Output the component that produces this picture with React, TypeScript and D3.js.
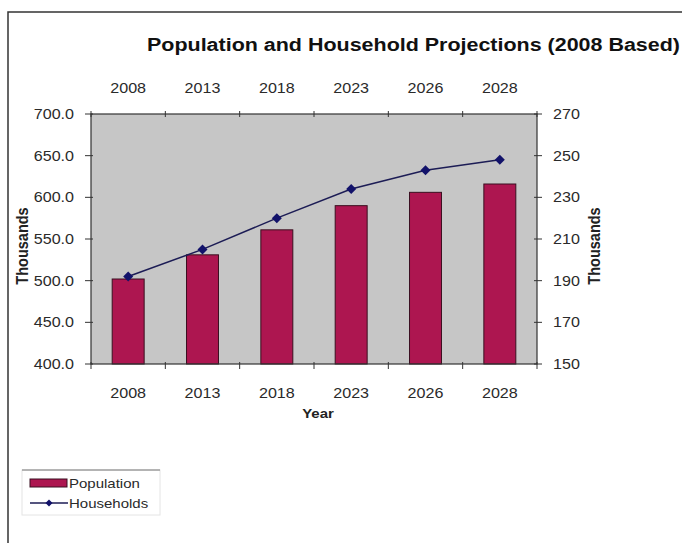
import React from "react";
import * as d3 from "d3";

const years = ["2008", "2013", "2018", "2023", "2026", "2028"];
const population = [502, 531, 561, 590, 606, 616];
const households = [192, 205, 220, 234, 243, 248];
const leftTicks = [400, 450, 500, 550, 600, 650, 700];
const rightTicks = [150, 170, 190, 210, 230, 250, 270];
const titleText = "Population and Household Projections (2008 Based)";
const seriesNames = ["Population", "Households"];

const W = 682, H = 543;
const L = 91, R = 537, T = 114, B = 364;
const SX = 1.15;
const FONT = "'Liberation Sans', Arial, sans-serif";
const BAR = "#ad1650";
const LINE = "#1c1c55";

function ST({ x, y, anchor = "start", size = 14, weight = "normal", fill = "#2a2a2a", sx = SX, children }: any) {
  return (
    <text transform={`translate(${x},${y}) scale(${sx},1)`} textAnchor={anchor} fontSize={size} fontWeight={weight} fill={fill} fontFamily={FONT}>
      {children}
    </text>
  );
}

export default function App() {
  const x = d3.scaleBand<string>().domain(years).range([L, R]).paddingInner(0.57).paddingOuter(0.285);
  const yL = d3.scaleLinear().domain([400, 700]).range([B, T]);
  const yR = d3.scaleLinear().domain([150, 270]).range([B, T]);
  const step = x.step();
  const cx = (d: string) => (x(d) as number) + x.bandwidth() / 2;
  const line = d3.line<number>().x((_, i) => cx(years[i])).y((d) => yR(d));
  const bounds = d3.range(years.length + 1).map((i) => L + i * step);
  const diamond = (px: number, py: number, s = 5) => `M${px},${py - s}L${px + s},${py}L${px},${py + s}L${px - s},${py}Z`;

  return (
    <svg width={W} height={H} style={{ position: "absolute", left: 0, top: 0, background: "#fff" }}>
      <rect x={8} y={12} width={720} height={600} fill="#fff" stroke="#333" strokeWidth={1.5} />
      <text x={147} y={51} fontSize={18} fontWeight="bold" fontFamily={FONT} fill="#111" textLength={533} lengthAdjust="spacingAndGlyphs">
        {titleText}
      </text>
      <rect x={L} y={T} width={R - L} height={B - T} fill="#c6c6c6" />
      {years.map((d, i) => (
        <rect key={d} x={x(d)} y={yL(population[i])} width={x.bandwidth()} height={B - yL(population[i])} fill={BAR} stroke="#3a0f20" strokeWidth={1} />
      ))}
      <path d={line(households) || ""} fill="none" stroke={LINE} strokeWidth={1.5} />
      {households.map((v, i) => (
        <path key={i} d={diamond(cx(years[i]), yR(v))} fill="#12126a" />
      ))}
      <rect x={L} y={T} width={R - L} height={B - T} fill="none" stroke="#333" strokeWidth={1.2} />
      {leftTicks.map((t) => (
        <g key={t}>
          <line x1={L - 6} x2={L + 2} y1={yL(t)} y2={yL(t)} stroke="#333" />
          <ST x={74} y={yL(t) + 5} anchor="end">{t.toFixed(1)}</ST>
        </g>
      ))}
      {rightTicks.map((t) => (
        <g key={t}>
          <line x1={R - 3} x2={R + 5} y1={yR(t)} y2={yR(t)} stroke="#333" />
          <ST x={553} y={yR(t) + 5}>{t}</ST>
        </g>
      ))}
      {bounds.map((b, i) => (
        <g key={i}>
          <line x1={b} x2={b} y1={B - 2} y2={B + 5} stroke="#333" />
          <line x1={b} x2={b} y1={T - 3} y2={T + 3} stroke="#333" />
        </g>
      ))}
      {years.map((d) => (
        <g key={d}>
          <ST x={cx(d)} y={398} anchor="middle">{d}</ST>
          <ST x={cx(d)} y={93} anchor="middle">{d}</ST>
        </g>
      ))}
      <ST x={318} y={418} anchor="middle" weight="bold" size={13} fill="#222">Year</ST>
      <text transform={`translate(28,246) rotate(-90) scale(1,${SX})`} textAnchor="middle" fontSize={14.5} fontWeight="bold" fontFamily={FONT} fill="#222">Thousands</text>
      <text transform={`translate(600,246) rotate(-90) scale(1,${SX})`} textAnchor="middle" fontSize={14.5} fontWeight="bold" fontFamily={FONT} fill="#222">Thousands</text>
      <rect x={22} y={470} width={138} height={45} fill="#fff" stroke="#e4e4e4" />
      <line x1={22} x2={160} y1={470} y2={470} stroke="#777" />
      <rect x={30} y={479} width={37} height={8} fill={BAR} stroke="#3a0f20" />
      <ST x={69} y={488} size={12.5} sx={1.2}>{seriesNames[0]}</ST>
      <line x1={30} x2={68} y1={503} y2={503} stroke={LINE} strokeWidth={1.5} />
      <path d={diamond(49, 503, 3.5)} fill="#12126a" />
      <ST x={69} y={508} size={12.5} sx={1.2}>{seriesNames[1]}</ST>
    </svg>
  );
}
